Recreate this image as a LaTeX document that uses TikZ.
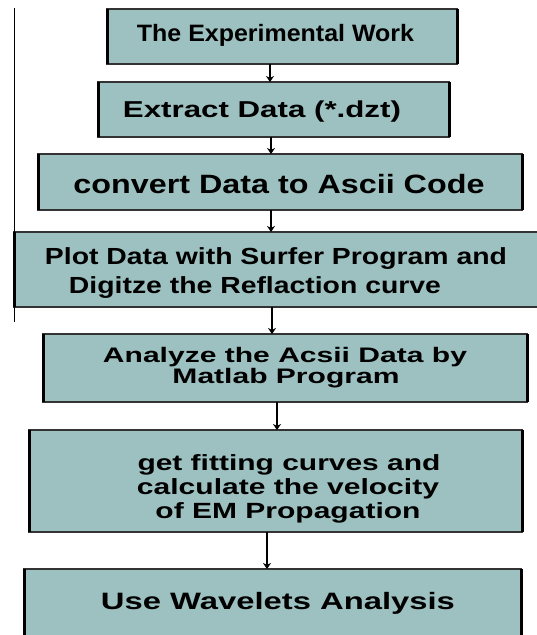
\documentclass[tikz,border=0pt]{standalone}
\usepackage{fontspec}
\setmainfont{Liberation Sans}
\usepackage{graphicx}
\usetikzlibrary{arrows.meta}
\definecolor{boxfill}{RGB}{157,193,192}
\newcommand\fitline[3]{\resizebox{#1pt}{\height}{\fontsize{#2pt}{#2pt}\selectfont\bfseries #3}}
\tikzset{
  box/.style={rectangle, fill=boxfill, draw=black!80, line width=1.6pt, inner sep=0pt, outer sep=0pt},
  side/.style={line width=3pt, black},
  txt/.style={inner sep=0pt, outer sep=0pt, anchor=base},
  arr/.style={line width=1.6pt, -{Stealth[length=6pt,width=8pt]}},
  leftline/.style={line width=1pt, black}
}
\begin{document}
\begin{tikzpicture}[x=1pt, y=-1pt]
\clip (0,0) rectangle (537,635);
\fill[white] (0,0) rectangle (537,635);
% boxes
\node[box, minimum width=350pt, minimum height=55pt] (b1) at (282,36.5) {};
\node[box, minimum width=351pt, minimum height=55pt] (b2) at (273.5,109.5) {};
\node[box, minimum width=484pt, minimum height=56pt] (b3) at (280,182) {};
\node[box, minimum width=531pt, minimum height=75pt] (b4) at (279.5,269.5) {};
\node[box, minimum width=484pt, minimum height=68pt] (b5) at (285,368) {};
\node[box, minimum width=493pt, minimum height=102pt] (b6) at (275.5,481) {};
\node[box, minimum width=497pt, minimum height=76pt] (b7) at (272.5,607) {};
\foreach \b in {b1,b2,b3,b4,b5,b6,b7}{
  \draw[side] (\b.north west) -- (\b.south west);
  \draw[side] (\b.north east) -- (\b.south east);
}
% left line
\coordinate (l1) at (14,8);
\coordinate (l2) at (14,322);
\draw[leftline] (l1) -- (l2);
% texts
\node[txt] (t1) at (275.5,41) {\fitline{277}{23.7}{The Experimental Work}};
\node[txt] (t2) at (262,117) {\fitline{278}{23}{Extract Data (*.dzt)}};
\node[txt] (t3) at (279,193) {\fitline{411}{26.5}{convert Data to Ascii Code}};
\node[txt] (t4a) at (276,264) {\fitline{462}{23.3}{Plot Data with Surfer Program and}};
\node[txt] (t4b) at (255,293) {\fitline{372}{23.3}{Digitze the Reflaction curve}};
\node[txt] (t5a) at (285,362) {\fitline{364}{21}{Analyze the Acsii Data by}};
\node[txt] (t5b) at (286,383) {\fitline{227}{21}{Matlab Program}};
\node[txt] (t6a) at (289,470) {\fitline{303}{22}{get fitting curves and}};
\node[txt] (t6b) at (288,494) {\fitline{302}{22}{calculate the velocity}};
\node[txt] (t6c) at (288,518) {\fitline{265}{22}{of EM Propagation}};
\node[txt] (t7) at (278,609) {\fitline{354}{23.7}{Use Wavelets Analysis}};
% arrows
\coordinate (x1) at (270,0);
\coordinate (x2) at (271,0);
\coordinate (x3) at (271,0);
\coordinate (x4) at (272,0);
\coordinate (x5) at (277,0);
\coordinate (x6) at (267,0);
\draw[arr] (x1 |- b1.south) -- (x1 |- b2.north);
\draw[arr] (x2 |- b2.south) -- (x2 |- b3.north);
\draw[arr] (x3 |- b3.south) -- (x3 |- b4.north);
\draw[arr] (x4 |- b4.south) -- (x4 |- b5.north);
\draw[arr] (x5 |- b5.south) -- (x5 |- b6.north);
\draw[arr] (x6 |- b6.south) -- (x6 |- b7.north);
\end{tikzpicture}
\end{document}
